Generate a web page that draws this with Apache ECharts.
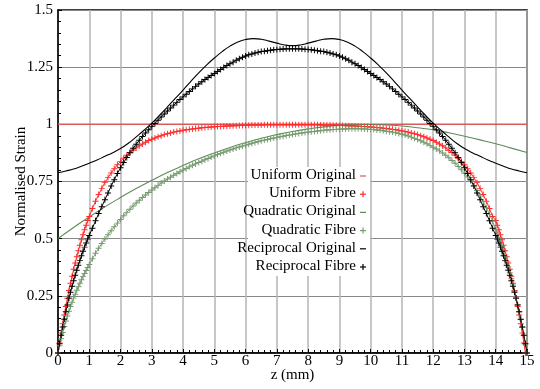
<!DOCTYPE html>
<html>
<head>
<meta charset="utf-8">
<script src="https://cdn.jsdelivr.net/npm/echarts@6/dist/echarts.min.js"></script>
<style>
  html, body { margin: 0; padding: 0; background: #fff; }
  #chart { width: 540px; height: 389px; }
</style>
</head>
<body>
<div id="chart"></div>
<script>
// sample positions along the fibre (mm), denser near the ends
const zFibre = [0,0.05,0.1,0.15,0.2,0.25,0.3,0.35,0.4,0.45,0.5,0.55,0.6,0.65,0.7,0.75,0.8,0.85,0.9,0.95,1,
  1.1,1.2,1.3,1.4,1.5,1.6,1.7,1.8,1.9,
  2,2.1,2.2,2.3,2.4,2.5,2.6,2.7,2.8,2.9,
  3,3.1,3.2,3.3,3.4,3.5,3.6,3.7,3.8,3.9,
  4,4.1,4.2,4.3,4.4,4.5,4.6,4.7,4.8,4.9,
  5,5.1,5.2,5.3,5.4,5.5,5.6,5.7,5.8,5.9,
  6,6.1,6.2,6.3,6.4,6.5,6.6,6.7,6.8,6.9,
  7,7.1,7.2,7.3,7.4,7.5,7.6,7.7,7.8,7.9,
  8,8.1,8.2,8.3,8.4,8.5,8.6,8.7,8.8,8.9,
  9,9.1,9.2,9.3,9.4,9.5,9.6,9.7,9.8,9.9,
  10,10.1,10.2,10.3,10.4,10.5,10.6,10.7,10.8,10.9,
  11,11.1,11.2,11.3,11.4,11.5,11.6,11.7,11.8,11.9,
  12,12.1,12.2,12.3,12.4,12.5,12.6,12.7,12.8,12.9,
  13,13.1,13.2,13.3,13.4,13.5,13.6,13.7,13.8,13.9,
  14,14.05,14.1,14.15,14.2,14.25,14.3,14.35,14.4,14.45,14.5,14.55,14.6,14.65,14.7,14.75,14.8,14.85,14.9,14.95,15];

const uniformFibre = [0,0.044,0.087,0.128,0.166,0.203,0.239,0.273,0.305,0.336,0.366,0.394,0.421,0.447,0.471,0.495,0.517,0.539,0.559,0.579,0.597,
  0.632,0.664,0.693,0.72,0.745,0.767,0.787,0.806,0.823,
  0.838,0.852,0.865,0.877,0.887,0.897,0.906,0.914,0.922,0.929,
  0.935,0.94,0.946,0.95,0.955,0.959,0.962,0.966,0.969,0.971,
  0.974,0.976,0.978,0.98,0.982,0.983,0.985,0.986,0.987,0.988,
  0.989,0.99,0.991,0.992,0.993,0.993,0.994,0.994,0.995,0.995,
  0.996,0.996,0.997,0.997,0.997,0.997,0.998,0.998,0.998,0.998,
  0.998,0.998,0.998,0.998,0.998,0.998,0.998,0.998,0.998,0.998,
  0.998,0.998,0.998,0.998,0.997,0.997,0.997,0.997,0.996,0.996,
  0.995,0.995,0.994,0.994,0.993,0.993,0.992,0.991,0.99,0.989,
  0.988,0.987,0.986,0.985,0.983,0.982,0.98,0.978,0.976,0.974,
  0.971,0.969,0.966,0.962,0.959,0.955,0.95,0.946,0.94,0.935,
  0.929,0.922,0.914,0.906,0.897,0.887,0.877,0.865,0.852,
  0.838,0.823,0.806,0.787,0.767,0.745,0.72,0.693,0.664,0.632,
  0.597,0.579,0.559,0.539,0.517,0.495,0.471,0.447,0.421,0.394,0.366,0.336,0.305,0.273,0.239,0.203,0.166,0.128,0.087,0.044,0];

const quadraticFibre = [0,0.032,0.062,0.09,0.116,0.14,0.162,0.183,0.203,0.222,0.24,0.257,0.274,0.29,0.305,0.32,0.334,0.348,0.361,0.374,0.387,
  0.412,0.436,0.458,0.479,0.499,0.517,0.535,0.552,0.568,
  0.584,0.6,0.615,0.629,0.643,0.656,0.668,0.68,0.691,0.702,
  0.713,0.723,0.733,0.743,0.752,0.761,0.769,0.777,0.785,0.793,
  0.8,0.807,0.814,0.821,0.827,0.833,0.839,0.845,0.851,0.857,
  0.862,0.868,0.873,0.878,0.883,0.888,0.892,0.897,0.901,0.905,
  0.909,0.913,0.917,0.921,0.924,0.928,0.931,0.934,0.937,0.94,
  0.943,0.946,0.948,0.951,0.953,0.956,0.958,0.96,0.962,0.964,
  0.966,0.968,0.969,0.971,0.972,0.974,0.975,0.976,0.977,0.978,
  0.979,0.98,0.98,0.981,0.981,0.981,0.981,0.981,0.98,0.979,
  0.978,0.977,0.975,0.974,0.972,0.97,0.968,0.966,0.963,0.96,
  0.957,0.953,0.949,0.944,0.939,0.934,0.928,0.922,0.915,0.908,
  0.9,0.892,0.884,0.875,0.865,0.854,0.842,0.83,0.816,0.801,
  0.786,0.77,0.752,0.732,0.711,0.687,0.661,0.635,0.607,0.576,
  0.54,0.524,0.505,0.487,0.466,0.445,0.423,0.4,0.376,0.351,0.325,0.298,0.27,0.242,0.211,0.18,0.147,0.113,0.077,0.039,0];

const reciprocalFibre = [0,0.04,0.078,0.114,0.148,0.18,0.21,0.24,0.266,0.292,0.316,0.34,0.362,0.384,0.405,0.425,0.445,0.463,0.481,0.498,0.514,
  0.546,0.578,0.61,0.64,0.67,0.7,0.73,0.758,0.785,
  0.81,0.833,0.855,0.876,0.895,0.913,0.93,0.947,0.962,0.976,
  0.99,1.004,1.018,1.032,1.045,1.058,1.071,1.084,1.096,1.109,
  1.12,1.132,1.144,1.155,1.166,1.176,1.186,1.196,1.205,1.214,
  1.222,1.231,1.24,1.249,1.257,1.265,1.272,1.28,1.287,1.293,
  1.299,1.304,1.308,1.312,1.315,1.318,1.32,1.322,1.324,1.326,
  1.327,1.328,1.329,1.33,1.33,1.33,1.33,1.33,1.329,1.328,
  1.327,1.326,1.324,1.322,1.32,1.318,1.315,1.312,1.308,1.304,
  1.299,1.293,1.287,1.28,1.272,1.265,1.257,1.249,1.24,1.231,
  1.222,1.214,1.205,1.196,1.186,1.176,1.166,1.155,1.144,1.132,
  1.12,1.109,1.096,1.084,1.071,1.058,1.045,1.032,1.018,1.004,
  0.99,0.976,0.962,0.947,0.93,0.913,0.895,0.876,0.855,0.833,
  0.81,0.785,0.758,0.73,0.7,0.67,0.64,0.61,0.578,0.546,
  0.514,0.498,0.481,0.463,0.445,0.425,0.405,0.384,0.362,0.34,0.316,0.292,0.266,0.24,0.21,0.18,0.148,0.114,0.078,0.04,0];

// original (applied) strain profiles
const zUniform = [0, 15];
const uniformOriginal = [1, 1];
const zQuadratic = [0,0.5,1,1.5,2,2.5,3,3.5,4,4.5,5,5.5,6,6.5,7,7.5,8,8.5,9,9.5,10,10.5,11,11.5,12,12.5,13,13.5,14,14.5,15];
const quadraticOriginal = [0.5,0.549,0.595,0.639,0.68,0.719,0.755,0.789,0.82,0.849,0.875,0.899,0.92,0.939,0.955,0.969,0.98,0.989,0.995,0.998,0.999,0.997,0.993,0.985,0.976,0.963,0.948,0.932,0.915,0.896,0.877];
const zReciprocal = [0,0.25,0.5,0.75,1,1.25,1.5,1.75,2,2.25,2.5,2.75,3,3.25,3.5,3.75,4,4.25,4.5,4.75,5,5.25,5.5,5.75,6,6.25,6.5,6.75,7,7.25,7.5,
  7.75,8,8.25,8.5,8.75,9,9.25,9.5,9.75,10,10.25,10.5,10.75,11,11.25,11.5,11.75,12,12.25,12.5,12.75,13,13.25,13.5,13.75,14,14.25,14.5,14.75,15];
const reciprocalOriginal = [0.788,0.796,0.805,0.817,0.83,0.844,0.86,0.876,0.894,0.917,0.945,0.974,1.005,1.04,1.076,1.113,1.15,1.188,1.225,1.259,1.29,1.318,1.342,1.36,1.371,1.375,1.372,1.364,1.355,1.347,1.344,
  1.347,1.355,1.364,1.372,1.375,1.371,1.36,1.342,1.318,1.29,1.259,1.225,1.188,1.15,1.113,1.076,1.04,1.005,0.974,0.945,0.917,0.894,0.876,0.86,0.844,0.83,0.817,0.805,0.796,0.788];

const seriesNames = ['Uniform Original', 'Uniform Fibre', 'Quadratic Original', 'Quadratic Fibre', 'Reciprocal Original', 'Reciprocal Fibre'];
const colors = ['#d65a5a', '#ff2b2b', '#5e8c58', '#779b70', '#000000', '#000000'];

const font = 'Liberation Serif';
const plus = 'path://M0,4.2H10V5.8H0ZM4.2,0H5.8V10H4.2Z';

function pairs(xs, ys) {
  return xs.map((x, i) => [x, ys[i]]);
}

function original(i, xs, ys) {
  return {
    name: seriesNames[i], type: 'line', data: pairs(xs, ys),
    smooth: true, showSymbol: false,
    lineStyle: { color: colors[i], width: i === 0 ? 1.5 : 1.1 }
  };
}
function fibre(i, ys) {
  return {
    name: seriesNames[i], type: 'line', data: pairs(zFibre, ys),
    symbol: plus, symbolSize: 6, showAllSymbol: true,
    itemStyle: { color: colors[i] },
    lineStyle: { color: colors[i], width: 1 }
  };
}

// legend drawn by hand: right aligned text, marker on the right
const legendItems = [{
  type: 'rect', z: 10,
  shape: { x: 248, y: 167, width: 122, height: 109 },
  style: { fill: '#fff' }
}];
seriesNames.forEach((name, i) => {
  const y = 175 + i * 18.2;
  legendItems.push({
    type: 'text', z: 11, x: 356, y: y,
    style: { text: name, font: '15px "' + font + '"', fill: '#000', textAlign: 'right', textVerticalAlign: 'middle' }
  });
  legendItems.push({ type: 'line', z: 11, shape: { x1: 360, y1: y + 1, x2: 366, y2: y + 1 }, style: { stroke: colors[i], lineWidth: 1.2 } });
  if (i % 2 === 1) {
    legendItems.push({ type: 'line', z: 11, shape: { x1: 363, y1: y - 2, x2: 363, y2: y + 4 }, style: { stroke: colors[i], lineWidth: 1.2 } });
  }
});

const chart = echarts.init(document.getElementById('chart'));
chart.setOption({
  animation: false,
  backgroundColor: '#fff',
  textStyle: { fontFamily: font },
  grid: { left: 58, right: 13, top: 10, bottom: 36, outerBoundsMode: 'none', containLabel: false,
    show: true, borderColor: '#000', borderWidth: 1.5, backgroundColor: 'transparent' },
  xAxis: {
    type: 'value', min: 0, max: 15, interval: 1,
    name: 'z (mm)', nameLocation: 'middle', nameGap: 15, nameMoveOverlap: false,
    nameTextStyle: { fontFamily: font, fontSize: 15, color: '#000' },
    axisLine: { lineStyle: { color: '#000', width: 1.5 } },
    axisTick: { inside: true, length: 4, lineStyle: { color: '#000' } },
    minorTick: { show: true, splitNumber: 5, length: 3, lineStyle: { color: '#000' } },
    axisLabel: { fontFamily: font, fontSize: 15, color: '#000', margin: 1 },
    splitLine: { show: true, lineStyle: { color: '#b5b5b5', width: 1.5 } }
  },
  yAxis: {
    type: 'value', min: 0, max: 1.5, interval: 0.25,
    name: 'Normalised Strain', nameLocation: 'middle', nameGap: 29, nameMoveOverlap: false,
    nameTextStyle: { fontFamily: font, fontSize: 15, color: '#000' },
    axisLine: { show: true, lineStyle: { color: '#000', width: 1.5 } },
    axisTick: { inside: true, length: 4, lineStyle: { color: '#000' } },
    minorTick: { show: true, splitNumber: 5, length: 3, lineStyle: { color: '#000' } },
    axisLabel: { fontFamily: font, fontSize: 15, color: '#000', margin: 5 },
    splitLine: { show: true, lineStyle: { color: '#888', width: 1 } }
  },
  graphic: legendItems,
  series: [
    original(0, zUniform, uniformOriginal),
    fibre(1, uniformFibre),
    original(2, zQuadratic, quadraticOriginal),
    fibre(3, quadraticFibre),
    original(4, zReciprocal, reciprocalOriginal),
    fibre(5, reciprocalFibre)
  ]
});
</script>
</body>
</html>
